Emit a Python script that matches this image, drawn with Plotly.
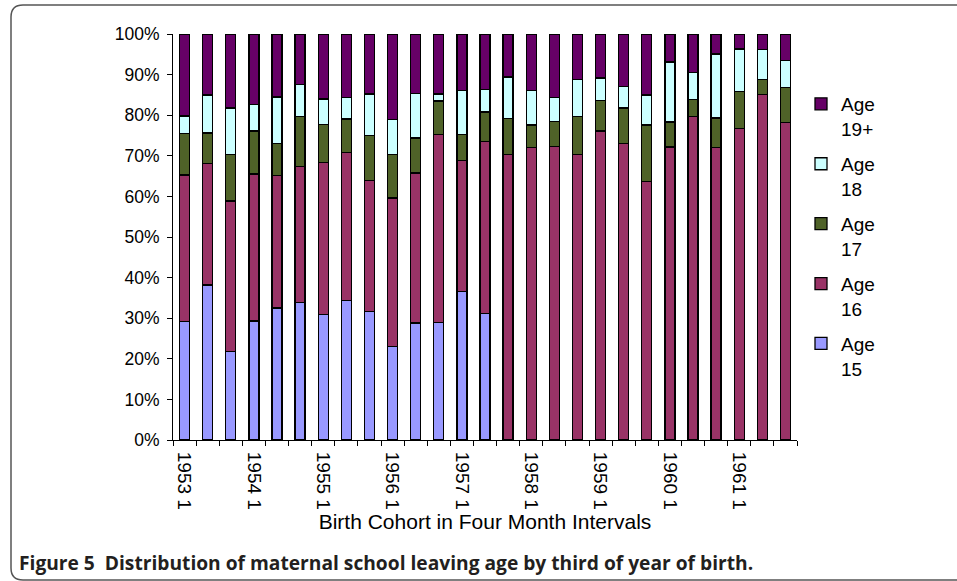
import plotly.graph_objects as go

categories = [f"{y} {t}" for y in range(1953, 1962) for t in (1, 2, 3)]

age15 = [29.2, 38.2, 21.8, 29.3, 32.5, 33.9, 30.9, 34.4, 31.6, 23.0, 28.8, 28.9, 36.5, 31.1,
         0, 0, 0, 0, 0, 0, 0, 0, 0, 0, 0, 0, 0]
age16 = [36.1, 29.9, 37.1, 36.2, 32.6, 33.4, 37.5, 36.4, 32.3, 36.6, 37.0, 46.3, 32.4, 42.5,
         70.4, 72.1, 72.3, 70.4, 76.1, 73.1, 63.7, 72.2, 79.6, 72.0, 76.8, 85.1, 78.2]
age17 = [10.2, 7.5, 11.5, 10.6, 7.9, 12.3, 9.3, 8.3, 11.1, 10.8, 8.6, 8.3, 6.3, 7.2,
         8.8, 5.5, 6.1, 9.2, 7.5, 8.7, 13.9, 6.1, 4.2, 7.3, 9.1, 3.7, 8.7]
age18 = [4.3, 9.4, 11.4, 6.6, 11.5, 7.9, 6.3, 5.3, 10.2, 8.5, 11.0, 1.7, 10.8, 5.6,
         10.2, 8.4, 5.9, 9.2, 5.6, 5.3, 7.4, 14.8, 6.8, 15.8, 10.4, 7.4, 6.5]
age19 = [20.2, 15.0, 18.2, 17.3, 15.5, 12.5, 16.0, 15.6, 14.8, 21.1, 14.6, 14.8, 14.0, 13.6,
         10.6, 14.0, 15.7, 11.2, 10.8, 12.9, 15.0, 6.9, 9.4, 4.9, 3.7, 3.8, 6.6]

series_names = ["Age<br>15", "Age<br>16", "Age<br>17", "Age<br>18", "Age<br>19+"]
series_values = [age15, age16, age17, age18, age19]
series_colors = ["#9999FF", "#993366", "#4F6228", "#CCFFFF", "#660066"]

label_idx = list(range(0, len(categories), 3))
tick_text = [categories[i] for i in label_idx]

x = list(range(len(categories)))

fig = go.Figure()
n = len(series_names)
for i, (name, vals, col) in enumerate(zip(series_names, series_values, series_colors)):
    fig.add_trace(go.Bar(
        x=x, y=vals, name=name, legendgroup=name, legendrank=n - i,
        marker=dict(color=col, line=dict(color="black", width=1.3)),
        hovertext=categories,
    ))

L, R, T, B = 173, 797, 34, 440
W, H = 957, 581
pw, ph = R - L, B - T

def px(v):
    return (v - L) / pw

def py(v):
    return (B - v) / ph

# rounded frame
x0, x1, y0, y1 = px(11), px(975), py(5), py(580)
rx, ry = 12 / pw, 12 / ph
frame = (f"M {x0+rx},{y0} L {x1},{y0} L {x1},{y1} L {x0+rx},{y1} "
         f"Q {x0},{y1} {x0},{y1+ry} L {x0},{y0-ry} Q {x0},{y0} {x0+rx},{y0} Z")

fig.update_layout(
    width=W, height=H,
    margin=dict(l=L, r=W - R, t=T, b=H - B, autoexpand=False),
    paper_bgcolor="white", plot_bgcolor="white",
    barmode="stack", bargap=0.57,
    font=dict(family="Liberation Sans, Arial, sans-serif", size=16, color="black"),
    showlegend=True,
    legend=dict(
        x=px(801), y=py(85), xanchor="left", yanchor="top",
        traceorder="grouped", valign="top", tracegroupgap=7.5,
        font=dict(size=19), itemwidth=30,
        bgcolor="rgba(0,0,0,0)",
    ),
    xaxis=dict(
        range=[-0.5, len(categories) - 0.5],
        tickmode="array", tickvals=label_idx, ticktext=tick_text,
        tickangle=90, ticks="", showgrid=False, zeroline=False,
        showline=True, linecolor="black", linewidth=1,
        tickfont=dict(size=19), ticklabelstandoff=7,
        minor=dict(tick0=-0.5, dtick=1, ticks="outside", ticklen=5,
                   tickcolor="black", showgrid=False),
        title=dict(text="Birth Cohort in Four Month Intervals", font=dict(size=21), standoff=5),
    ),
    yaxis=dict(
        range=[0, 100], tickmode="linear", tick0=0, dtick=10, ticksuffix="%",
        showgrid=False, zeroline=False, showline=True, linecolor="black", linewidth=1,
        ticks="outside", ticklen=5, tickcolor="black", tickfont=dict(size=17.5),
        ticklabelstandoff=4,
    ),
    shapes=[dict(type="path", path=frame, xref="paper", yref="paper",
                 line=dict(color="#555555", width=1.5), layer="below")],
    annotations=[dict(
        xref="paper", yref="paper", x=px(17), y=py(562), xanchor="left", yanchor="middle",
        showarrow=False,
        text="<b>Figure 5  Distribution of maternal school leaving age by third of year of birth.</b>",
        font=dict(family="Open Sans, Lato, sans-serif", size=19.2, color="#231F20"),
    )],
)

fig.write_html("out.html", config={"displayModeBar": False},
               post_script="document.body.style.margin='0';")
